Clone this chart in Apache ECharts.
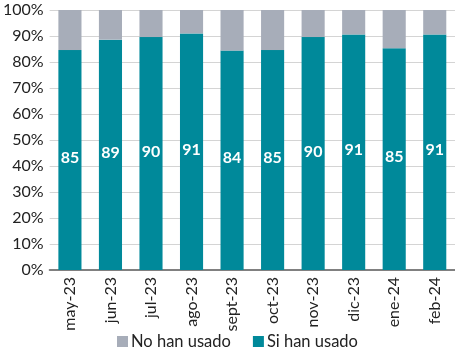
<!DOCTYPE html>
<html>
<head>
<meta charset="utf-8">
<script src="https://cdn.jsdelivr.net/npm/echarts@6/dist/echarts.min.js"></script>
<style>
  html, body { margin: 0; padding: 0; background: #fff; }
  #main { width: 455px; height: 355px; }
</style>
</head>
<body>
<div id="main"></div>
<script>
// categorias (meses)
const months = ["may-23", "jun-23", "jul-23", "ago-23", "sept-23", "oct-23", "nov-23", "dic-23", "ene-24", "feb-24"];
// % que si han usado
const usedValues = [84.6, 88.6, 89.6, 91.0, 84.4, 84.6, 89.6, 90.6, 85.3, 90.6];
// % que no han usado
const notUsedValues = usedValues.map((v) => +(100 - v).toFixed(1));

const chart = echarts.init(document.getElementById("main"));
const font = "Lato, 'Noto Sans', sans-serif";

chart.setOption({
  animation: false,
  textStyle: { fontFamily: font },
  grid: { left: 48, right: 0, top: 10, bottom: 85 },
  legend: {
    bottom: 0,
    left: 112,
    itemWidth: 11,
    itemHeight: 11,
    itemGap: 22,
    icon: "rect",
    data: ["No han usado", "Si han usado"],
    textStyle: { fontSize: 16.5, color: "#222", fontFamily: font, padding: [0, 0, 0, -2] },
  },
  xAxis: {
    type: "category",
    data: months,
    axisLine: { lineStyle: { color: "#808080", width: 2 } },
    axisTick: { show: false },
    axisLabel: { rotate: 90, fontSize: 16, color: "#222", margin: 7, fontFamily: font },
  },
  yAxis: {
    type: "value",
    min: 0,
    max: 100,
    interval: 10,
    axisLabel: { formatter: "{value}%", fontSize: 16, color: "#222", margin: 6, fontFamily: font },
    splitLine: { lineStyle: { color: "#d4d4d4", width: 1 } },
    axisLine: { show: false },
    axisTick: { show: false },
  },
  series: [
    {
      name: "Si han usado",
      type: "bar",
      stack: "total",
      barWidth: "57%",
      data: usedValues,
      itemStyle: { color: "#00899a" },
      label: {
        show: true,
        position: "inside",
        offset: [0, -2],
        color: "#fff",
        fontSize: 16,
        fontWeight: "bold",
        fontFamily: font,
        formatter: (p) => Math.round(p.value),
      },
    },
    {
      name: "No han usado",
      type: "bar",
      stack: "total",
      barWidth: "57%",
      data: notUsedValues,
      itemStyle: { color: "#a7adb9" },
    },
  ],
});
</script>
</body>
</html>
